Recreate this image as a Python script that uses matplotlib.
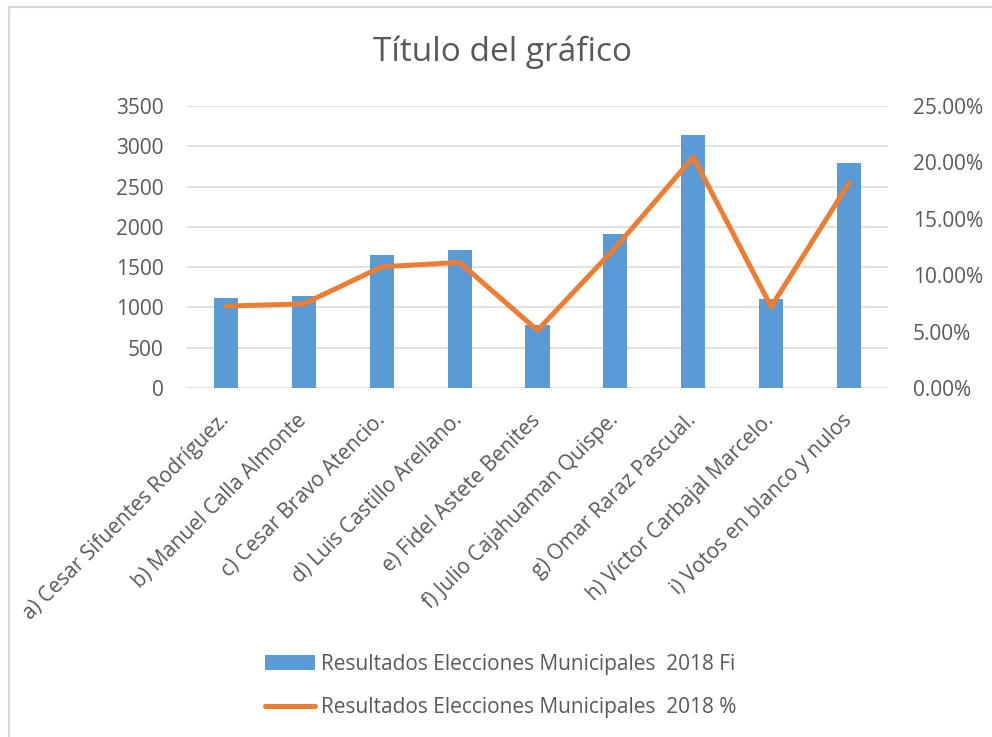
import matplotlib
matplotlib.use('Agg')
import matplotlib.pyplot as plt
from matplotlib.lines import Line2D
from matplotlib.ticker import FuncFormatter

plt.rcParams['font.family'] = ['Open Sans', 'DejaVu Sans']

# data
candidatos = [
    'a) Cesar Sifuentes Rodríguez.',
    'b) Manuel Calla Almonte',
    'c) Cesar Bravo Atencio.',
    'd) Luis Castillo Arellano.',
    'e) Fidel Astete Benites',
    'f) Julio Cajahuaman Quispe.',
    'g) Omar Raraz Pascual.',
    'h) Víctor Carbajal Marcelo.',
    'i) Votos en blanco y nulos',
]
votos = [1115, 1145, 1650, 1710, 785, 1910, 3145, 1105, 2795]
porcentaje = [7.26, 7.46, 10.75, 11.13, 5.11, 12.44, 20.47, 7.20, 18.18]

serie_fi = 'Resultados Elecciones Municipales  2018 Fi'
serie_pct = 'Resultados Elecciones Municipales  2018 %'

gris = '#595959'
grid_col = '#D9D9D9'
azul = '#5B9BD5'
naranja = '#ED7D31'

fig = plt.figure(figsize=(9.92, 7.37), dpi=100)
ax = fig.add_axes([187/992, 1 - 388/737, (888 - 187)/992, (388 - 106)/737])
ax2 = ax.twinx()

x = list(range(len(candidatos)))
bars = ax.bar(x, votos, width=0.31, color=azul, zorder=2)
ln, = ax2.plot(x, [p / 100 for p in porcentaje], color=naranja, lw=3.6,
               solid_capstyle='round', solid_joinstyle='round')

ax.set_xlim(-0.5, len(candidatos) - 0.5)
ax.set_ylim(0, 3500)
ax.set_yticks(range(0, 3501, 500))
ax2.set_ylim(0, 0.25)
ax2.set_yticks([0, 0.05, 0.10, 0.15, 0.20, 0.25])
ax2.yaxis.set_major_formatter(FuncFormatter(lambda v, p: f'{v*100:.2f}%'))

ax.grid(axis='y', color=grid_col, lw=1.1, zorder=0)
ax.set_axisbelow(True)
for a in (ax, ax2):
    for s in a.spines.values():
        s.set_visible(False)
    a.tick_params(length=0, colors=gris, labelsize=15)
ax.tick_params(axis='y', pad=17)
ax2.tick_params(axis='y', pad=18)

ax.set_xticks(x)
ax.set_xticklabels(candidatos, rotation=45, ha='right', va='center',
                   rotation_mode='anchor')
ax.tick_params(axis='x', pad=21)

fig.text(0.507, 1 - 52/737, 'Título del gráfico', ha='center', va='center',
         fontsize=24, color=gris)

fig.legend([bars, ln], [serie_fi, serie_pct], loc='center',
           bbox_to_anchor=(0.505, 1 - 686/737), frameon=False, fontsize=15,
           labelcolor=gris, handlelength=2.4, handletextpad=0.3,
           labelspacing=1.08)

# chart frame (only left and top edges visible in the crop)
fig.add_artist(Line2D([9/992, 9/992], [0, 1 - 7/737], color=grid_col, lw=1.6,
                      transform=fig.transFigure))
fig.add_artist(Line2D([9/992, 1], [1 - 7/737, 1 - 7/737], color=grid_col, lw=1.6,
                      transform=fig.transFigure))

fig.savefig('out.png', dpi=100)
